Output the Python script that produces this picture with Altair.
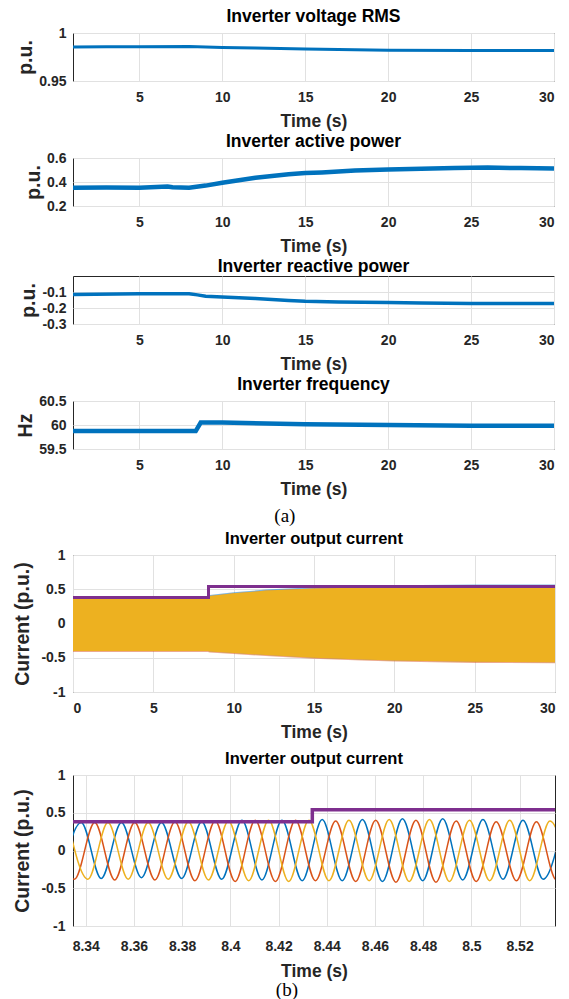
import altair as alt
import pandas as pd

# ---------------- data ----------------
# (a) Inverter voltage RMS (p.u.)
v_t = [1, 3, 5, 8, 10, 12, 15, 18, 20, 25, 30]
v_val = [0.9855, 0.9857, 0.9858, 0.9860, 0.9850, 0.9843, 0.9833, 0.9825, 0.9820, 0.9817, 0.9817]

# (a) Inverter active power (p.u.)
p_t = [1, 3, 5, 6.7, 7, 8, 9, 10, 11, 12, 13, 14, 15, 16, 17, 18, 19, 20, 22, 24, 26, 28, 30]
p_val = [0.352, 0.354, 0.352, 0.362, 0.356, 0.352, 0.370, 0.394, 0.415, 0.436, 0.450, 0.465, 0.475, 0.480,
         0.487, 0.496, 0.500, 0.504, 0.510, 0.516, 0.520, 0.516, 0.513]

# (a) Inverter reactive power (p.u.)
q_t = [1, 5, 8, 8.5, 9, 10, 12, 14, 15, 17, 20, 22, 25, 30]
q_val = [-0.116, -0.111, -0.111, -0.118, -0.127, -0.132, -0.140, -0.153, -0.158, -0.162, -0.166, -0.168, -0.172, -0.172]

# (a) Inverter frequency (Hz)
f_t = [1, 8.4, 8.7, 10, 15, 20, 25, 30]
f_val = [59.873, 59.873, 60.05, 60.05, 60.015, 60.0, 59.985, 59.985]

# (b) envelope of the three phase currents over 0-30 s
env_t = [0, 8.4, 8.5, 10, 12, 15, 18, 20, 25, 30]
yel_hi = [0.37, 0.38, 0.40, 0.44, 0.48, 0.51, 0.525, 0.53, 0.535, 0.535]
yel_lo = [-0.40, -0.40, -0.41, -0.43, -0.46, -0.50, -0.525, -0.54, -0.56, -0.565]
blu_hi = [0.40, 0.40, 0.415, 0.455, 0.495, 0.53, 0.55, 0.56, 0.57, 0.57]
ora_lo = [-0.415, -0.415, -0.425, -0.445, -0.475, -0.515, -0.54, -0.555, -0.575, -0.58]

# (b) current reference (purple step)
ref_t = [0, 8.434, 30]
ref_v = [0.38, 0.54, 0.54]

# (b) zoomed three-phase currents: extrema (time, value)
blue_t = [8.3298, 8.3381, 8.3464, 8.3548, 8.3631, 8.3714, 8.3798, 8.3881, 8.3964, 8.4048, 8.4131, 8.4214, 8.4298,
          8.4381, 8.4464, 8.4548, 8.4631, 8.4714, 8.4798, 8.4881, 8.4964, 8.5048, 8.5131, 8.5214, 8.5298, 8.5381]
blue_v = [-0.36, 0.37, -0.37, 0.37, -0.36, 0.37, -0.37, 0.38, -0.38, 0.40, -0.39, 0.40, -0.40,
          0.41, -0.40, 0.41, -0.41, 0.42, -0.40, 0.42, -0.39, 0.41, -0.38, 0.40, -0.38, 0.40]
orange_t = [8.3270, 8.3353, 8.3437, 8.3520, 8.3603, 8.3687, 8.3770, 8.3853, 8.3937, 8.4020, 8.4103, 8.4187, 8.4270,
            8.4353, 8.4437, 8.4520, 8.4603, 8.4687, 8.4770, 8.4853, 8.4937, 8.5020, 8.5103, 8.5187, 8.5270, 8.5353, 8.5437]
orange_v = [0.36, -0.38, 0.37, -0.39, 0.37, -0.39, 0.38, -0.40, 0.39, -0.41, 0.40, -0.41, 0.40,
            -0.40, 0.39, -0.41, 0.40, -0.42, 0.40, -0.42, 0.39, -0.41, 0.38, -0.40, 0.38, -0.39, 0.37]
yellow_t = [8.3326, 8.3409, 8.3492, 8.3576, 8.3659, 8.3742, 8.3826, 8.3909, 8.3992, 8.4076, 8.4159, 8.4242, 8.4326,
            8.4409, 8.4492, 8.4576, 8.4659, 8.4742, 8.4826, 8.4909, 8.4992, 8.5076, 8.5159, 8.5242, 8.5326, 8.5409]
yellow_v = [0.37, -0.38, 0.37, -0.38, 0.37, -0.38, 0.38, -0.39, 0.39, -0.40, 0.40, -0.41, 0.40,
            -0.40, 0.40, -0.40, 0.41, -0.41, 0.41, -0.41, 0.40, -0.40, 0.40, -0.40, 0.39, -0.39]

# tick values
ticks_30 = [5, 10, 15, 20, 25, 30]
ticks_30b = [0, 5, 10, 15, 20, 25, 30]
ticks_zoom = [8.34, 8.36, 8.38, 8.4, 8.42, 8.44, 8.46, 8.48, 8.5, 8.52]
cur_ticks = [-1, -0.5, 0, 0.5, 1]

# ---------------- style ----------------
BLUE, ORANGE, YELLOW, PURPLE = "#0072BD", "#D95319", "#EDB120", "#7E2F8E"
FONT = "Liberation Sans"
LBL = "replace(format(datum.value, '~g'), '\u2212', '-')"
W1, W2 = 481, 482
H1 = 48


def sc(dom):
    return alt.Scale(domain=dom, nice=False, zero=False)


def xaxis(vals, lp=9, tp=8):
    return alt.Axis(values=vals, title="Time (s)", labelExpr=LBL, labelPadding=lp, titlePadding=tp)


def yaxis(vals, title, lp=7, tp=3):
    return alt.Axis(values=vals, title=title, labelExpr=LBL, labelPadding=lp, titlePadding=tp)


def ttl(text, size):
    return alt.TitleParams(text, fontSize=size)


def line_panel(t, v, title, ydom, yticks, ytitle, sw):
    df = pd.DataFrame({"t": t, "v": v})
    return alt.Chart(df).mark_line(color=BLUE, strokeWidth=sw, clip=True).encode(
        x=alt.X("t:Q", scale=sc([1, 30]), axis=xaxis(ticks_30)),
        y=alt.Y("v:Q", scale=sc(ydom), axis=yaxis(yticks, ytitle)),
    ).properties(width=W1, height=H1, title=ttl(title, 17.5))


p1 = line_panel(v_t, v_val, "Inverter voltage RMS", [0.95, 1.0], [0.95, 1.0], "p.u.", 3)
p2 = line_panel(p_t, p_val, "Inverter active power", [0.2, 0.6], [0.2, 0.4, 0.6], "p.u.", 4.5)
p3 = line_panel(q_t, q_val, "Inverter reactive power", [-0.3, 0.0], [-0.3, -0.2, -0.1], "p.u.", 3.5)
p4 = line_panel(f_t, f_val, "Inverter frequency", [59.5, 60.5], [59.5, 60, 60.5], "Hz", 4.5)

CUR_AX = yaxis(cur_ticks, "Current (p.u.)", 8, 8)

# panel 5 : full 0-30 s current
env = pd.DataFrame({"t": env_t, "yh": yel_hi, "yl": yel_lo, "bh": blu_hi, "ol": ora_lo})
xb = alt.X("t:Q", scale=sc([0, 30]), axis=xaxis(ticks_30b))
a_blue = alt.Chart(env).mark_area(color=BLUE, opacity=0.5).encode(
    x=xb, y=alt.Y("yl:Q", scale=sc([-1, 1]), axis=CUR_AX), y2="bh:Q")
a_orange = alt.Chart(env).mark_area(color=ORANGE, opacity=0.5).encode(
    x=xb, y=alt.Y("ol:Q", scale=sc([-1, 1]), axis=CUR_AX), y2="yh:Q")
a_yel = alt.Chart(env).mark_area(color=YELLOW).encode(
    x=xb, y=alt.Y("yl:Q", scale=sc([-1, 1]), axis=CUR_AX), y2="yh:Q")
ref_df = pd.DataFrame({"t": ref_t, "v": ref_v})
r5 = alt.Chart(ref_df).mark_line(color=PURPLE, strokeWidth=3, interpolate="step-after").encode(
    x=xb, y=alt.Y("v:Q", scale=sc([-1, 1]), axis=CUR_AX))
p5 = alt.layer(a_blue, a_orange, a_yel, r5).properties(
    width=W2, height=137, title=ttl("Inverter output current", 16.5))

# panel 6 : zoom around the step
ZD = [8.3347, 8.5347]
xz = alt.X("t:Q", scale=sc(ZD), axis=xaxis(ticks_zoom, 13, 9))
yz = alt.Y("v:Q", scale=sc([-1, 1]), axis=CUR_AX)


def phase(t, v, c):
    return alt.Chart(pd.DataFrame({"t": t, "v": v})).mark_line(
        color=c, strokeWidth=1.5, interpolate="monotone", clip=True).encode(x=xz, y=yz)


r6 = alt.Chart(ref_df).mark_line(color=PURPLE, strokeWidth=3.5, interpolate="step-after", clip=True).encode(x=xz, y=yz)
p6 = alt.layer(phase(blue_t, blue_v, BLUE), phase(orange_t, orange_v, ORANGE),
               phase(yellow_t, yellow_v, YELLOW), r6).properties(
    width=W2, height=151, title=ttl("Inverter output current", 16.5))

cap = dict(orient="bottom", font="Liberation Serif", fontSize=19, fontWeight="normal", color="black")
top = alt.vconcat(p1, p2, p3, p4, spacing=2).properties(title=alt.TitleParams("(a)", offset=9, **cap))
bot = alt.vconcat(p5, p6, spacing=9).properties(title=alt.TitleParams("(b)", offset=1, **cap))

chart = alt.vconcat(top, bot, spacing=4).properties(
    padding={"left": 12, "top": 7, "right": 0, "bottom": 0}
).configure_view(stroke="#262626", strokeWidth=1).configure_axis(
    labelFont=FONT, labelFontSize=14, labelFontWeight="bold", labelColor="#262626",
    titleFont=FONT, titleFontWeight="bold", titleColor="#262626",
    grid=True, gridColor="#e1e1e1", ticks=False, domain=False
).configure_axisX(titleFontSize=17.5).configure_axisY(titleFontSize=19.5).configure_title(
    font=FONT, fontWeight="bold", color="black", offset=1, anchor="middle"
)

chart.save("out.html", embed_options={"renderer": "svg", "actions": False})
